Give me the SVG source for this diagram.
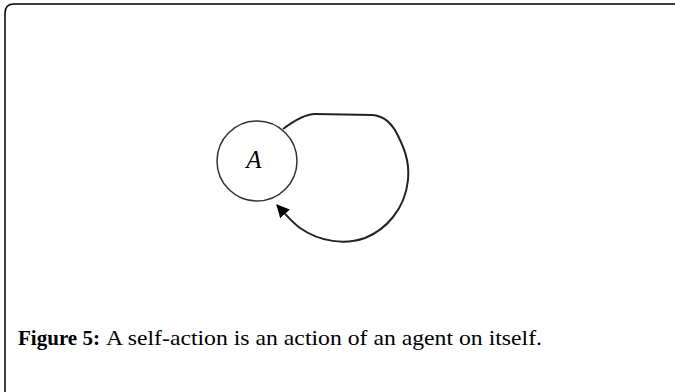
<svg xmlns="http://www.w3.org/2000/svg" width="675" height="392" viewBox="0 0 675 392">
<defs>
<marker id="arr" markerWidth="13" markerHeight="13" refX="12" refY="6.5" orient="auto" markerUnits="userSpaceOnUse">
<path d="M0,0 L13,6.5 L0,13 Z" fill="#000"/>
</marker>
<style>
.edge{fill:none;stroke:#222;stroke-width:2}
.cap{font-family:"Liberation Serif","DejaVu Serif",serif;font-size:21px;fill:#000}
</style>
</defs>
<rect width="675" height="392" fill="#fff"/>
<path d="M5,392 V13 Q5,4 14,4 H675" fill="none" stroke="#000" stroke-width="1.5"/>
<g id="nodeA">
<circle cx="257" cy="161" r="40" fill="#fff" stroke="#333" stroke-width="1.5"/>
<text x="254" y="168" text-anchor="middle" font-family="Liberation Serif, serif" font-style="italic" font-size="25">A</text>
</g>
<g id="connectors">
<path class="edge" d="M283,129 C295,120 305,114 315,114 L372,115 C385,116 391,124 395,130 C403,145 410,160 408,180 C405,210 385,230 365,238 C345,245 320,242 300,228 C292,222 286,215 277,205" marker-end="url(#arr)"/>
</g>
<text class="cap" x="18" y="345" font-weight="bold" textLength="82" lengthAdjust="spacingAndGlyphs">Figure 5:</text>
<text class="cap" x="106" y="345" textLength="436" lengthAdjust="spacingAndGlyphs">A self-action is an action of an agent on itself.</text>
</svg>
